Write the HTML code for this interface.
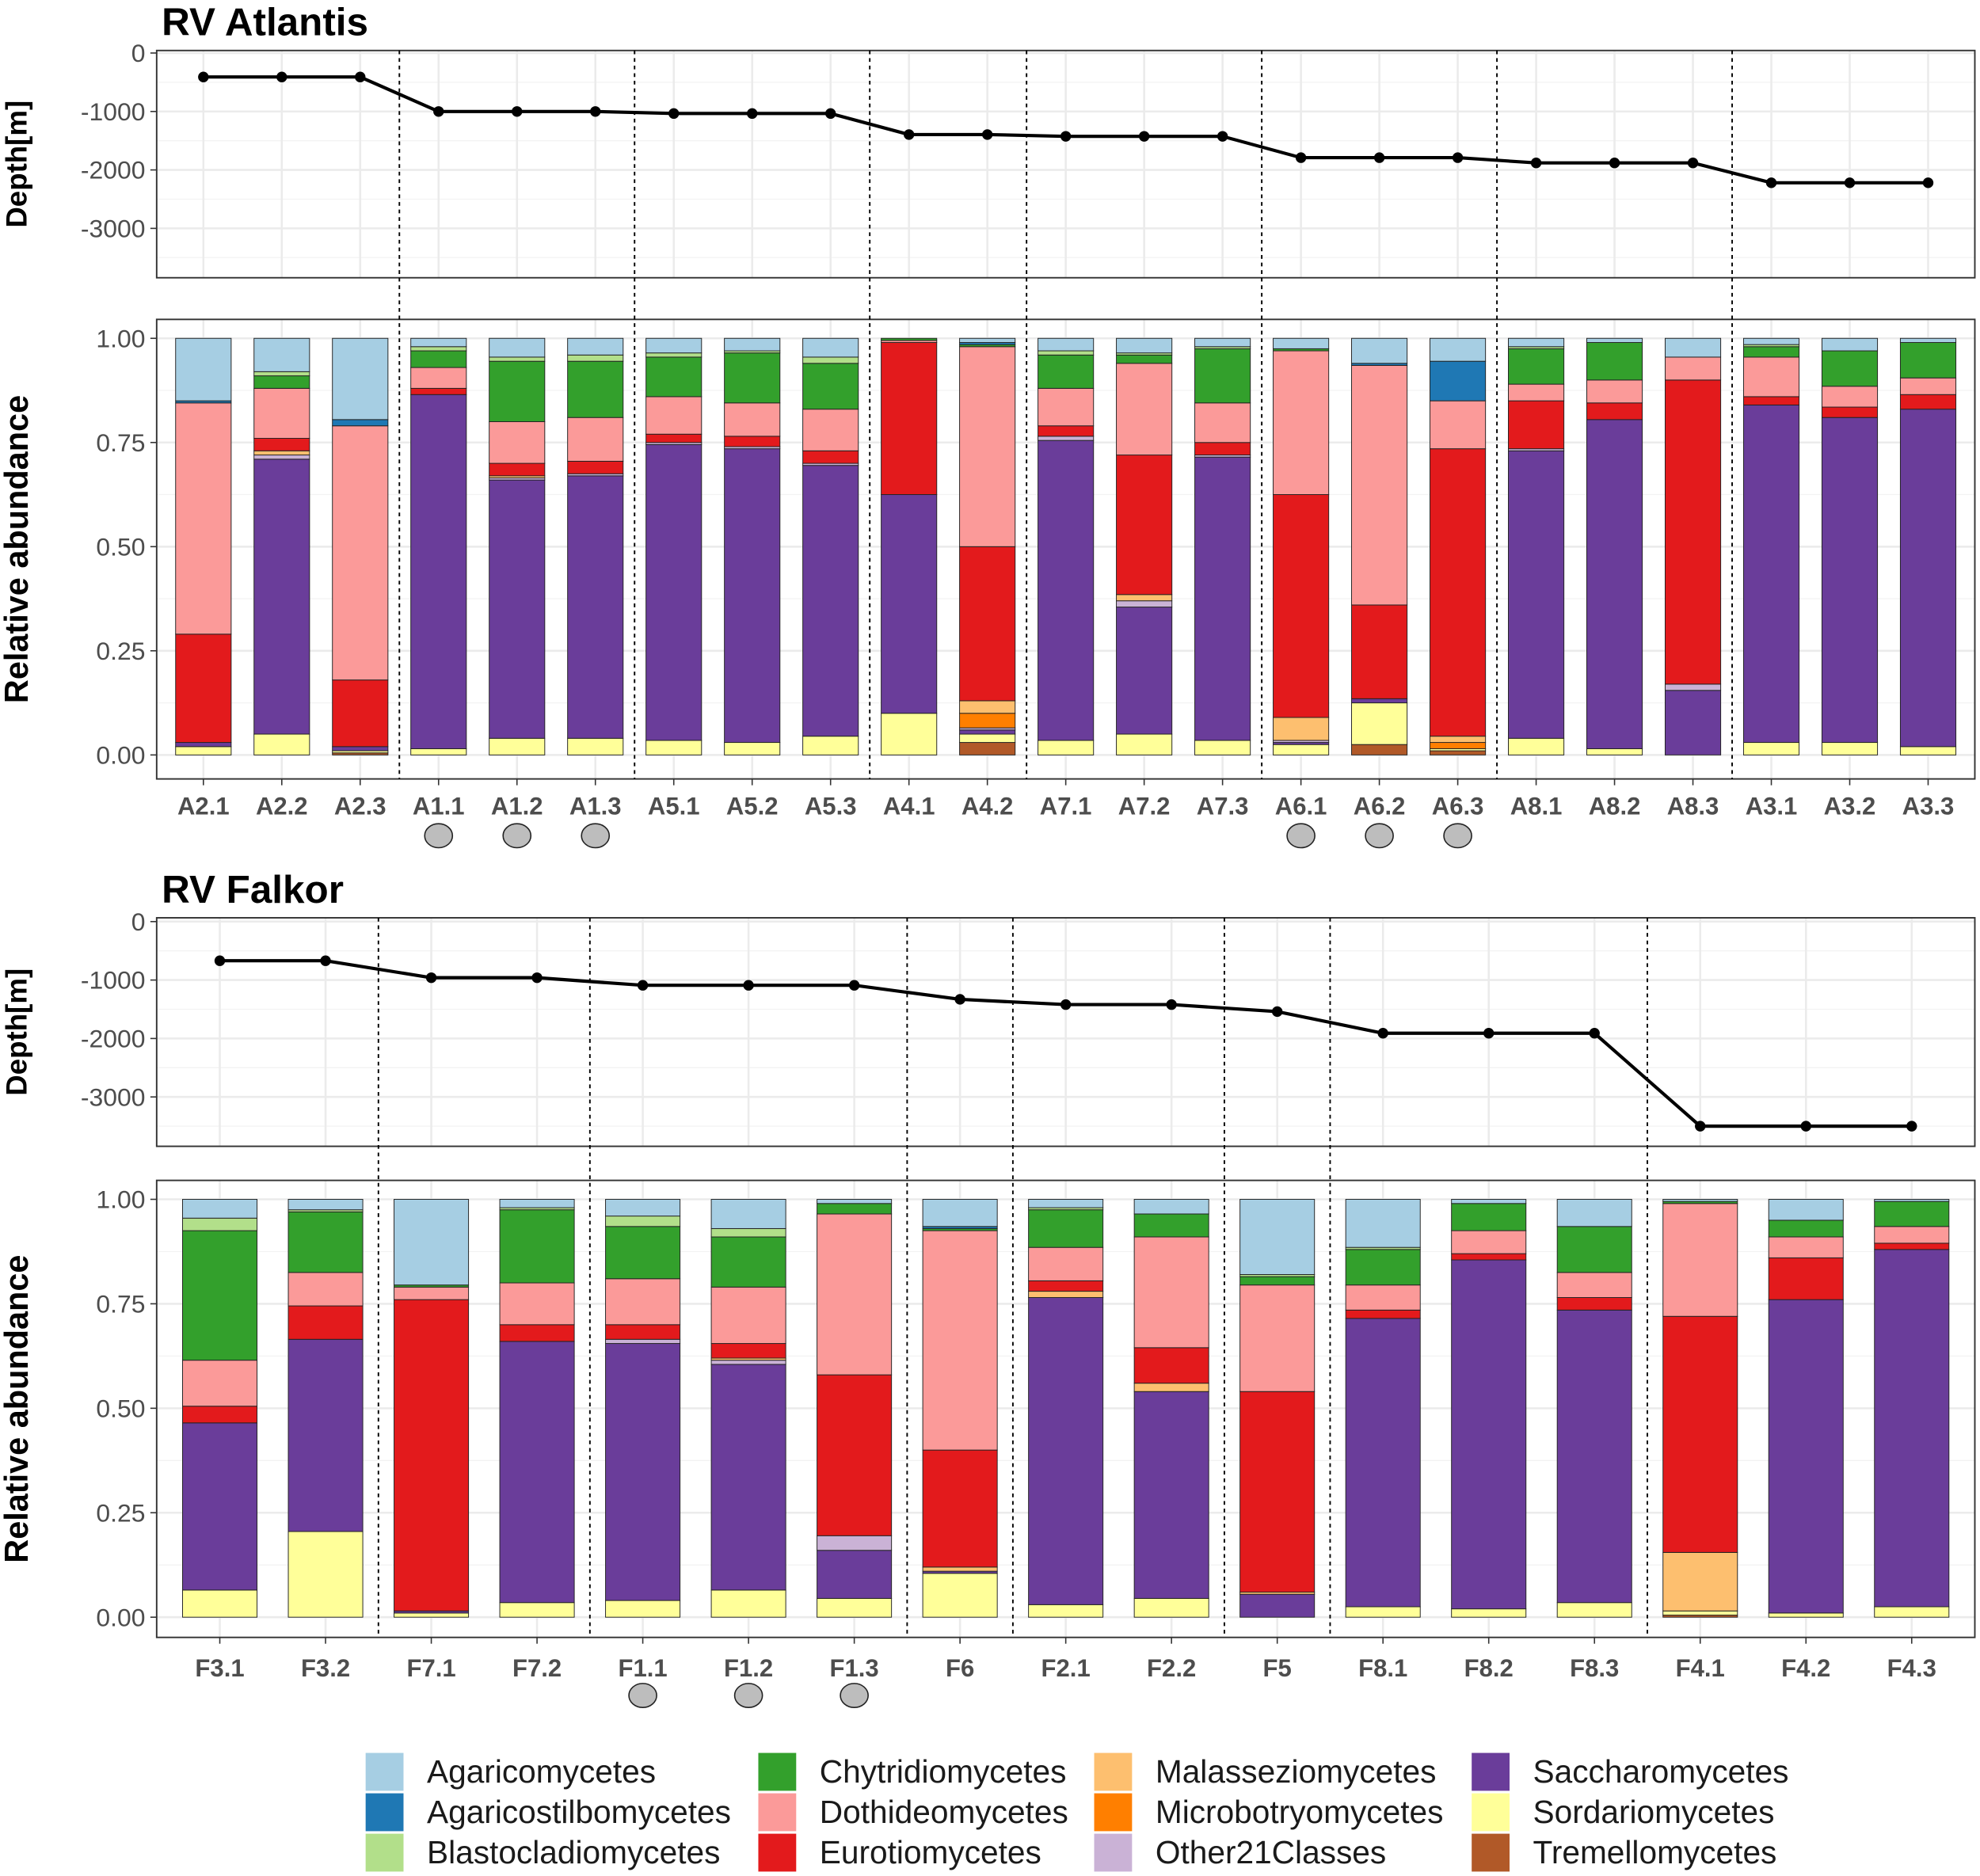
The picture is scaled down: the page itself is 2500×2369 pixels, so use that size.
<!DOCTYPE html>
<html><head><meta charset="utf-8"><style>
html,body{margin:0;padding:0;background:#fff;}
svg{display:block;font-family:"Liberation Sans",Arial,sans-serif;}
</style></head><body>
<svg id="chart" width="2500" height="2369" viewBox="0 0 1568 1486" xmlns="http://www.w3.org/2000/svg">
<text x="128" y="28" font-size="31" font-weight="bold">RV Atlantis</text>
<text x="128" y="715" font-size="31" font-weight="bold">RV Falkor</text>
<g id="layer"></g>
</svg>
<script>
const NS="http://www.w3.org/2000/svg";
const classNames=["Tremellomycetes","Sordariomycetes","Saccharomycetes","Other21Classes","Microbotryomycetes","Malasseziomycetes","Eurotiomycetes","Dothideomycetes","Chytridiomycetes","Blastocladiomycetes","Agaricostilbomycetes","Agaricomycetes"];
const classColors=["#B15928","#FFFF99","#6A3D9A","#CAB2D6","#FF7F00","#FDBF6F","#E31A1C","#FB9A99","#33A02C","#B2DF8A","#1F78B4","#A6CEE3"];

const atlSamples=["A2.1","A2.2","A2.3","A1.1","A1.2","A1.3","A5.1","A5.2","A5.3","A4.1","A4.2","A7.1","A7.2","A7.3","A6.1","A6.2","A6.3","A8.1","A8.2","A8.3","A3.1","A3.2","A3.3"];
const atlDepth=[-410,-410,-410,-1000,-1000,-1000,-1035,-1035,-1035,-1395,-1395,-1425,-1425,-1425,-1790,-1790,-1790,-1880,-1880,-1880,-2220,-2220,-2220];
const atlTrem=[0,0,.005,0,0,0,0,0,0,0,.03,0,0,0,0,.025,.01,0,0,0,0,0,0];
const atlSord=[.02,.05,.005,.015,.04,.04,.035,.03,.045,.10,.02,.035,.05,.035,.025,.10,.005,.04,.015,0,.03,.03,.02];
const atlSacch=[.01,.66,.01,.85,.62,.63,.71,.705,.65,.525,.01,.72,.305,.68,.005,.01,0,.69,.79,.155,.81,.78,.81];
const atlOther=[0,.01,0,0,.005,.005,.005,.005,.005,0,.005,.01,.015,.005,.005,0,0,.005,0,.015,0,0,0];
const atlMicro=[0,0,0,0,0,0,0,0,0,0,.035,0,0,0,0,0,.015,0,0,0,0,0,0];
const atlMalas=[0,.01,0,0,.005,0,0,0,0,0,.03,0,.015,0,.055,0,.015,0,0,0,0,0,0];
const atlEuro=[.26,.03,.16,.015,.03,.03,.02,.025,.03,.365,.37,.025,.335,.03,.535,.225,.69,.115,.04,.73,.02,.025,.035];
const atlDoth=[.555,.12,.61,.05,.10,.105,.09,.08,.10,.005,.48,.09,.22,.095,.345,.575,.115,.04,.055,.055,.095,.05,.04];
const atlChyt=[0,.03,0,.04,.145,.135,.095,.12,.11,.005,.005,.08,.02,.13,.005,0,0,.085,.09,0,.025,.085,.085];
const atlBlast=[0,.01,0,.01,.01,.015,.01,.005,.015,0,0,.01,.005,.005,0,0,0,.005,0,0,.005,0,0];
const atlAgst=[.005,0,.015,0,0,0,0,0,0,0,.005,0,0,0,0,.005,.095,0,0,0,0,0,0];
const atlAgar=[.15,.08,.195,.02,.045,.04,.035,.03,.045,0,.01,.03,.035,.02,.025,.06,.055,.02,.01,.045,.015,.03,.01];
const atlMarked=["A1.1","A1.2","A1.3","A6.1","A6.2","A6.3"];
const atlSeparators=[2.5,5.5,8.5,10.5,13.5,16.5,19.5];

const falSamples=["F3.1","F3.2","F7.1","F7.2","F1.1","F1.2","F1.3","F6","F2.1","F2.2","F5","F8.1","F8.2","F8.3","F4.1","F4.2","F4.3"];
const falDepth=[-670,-670,-960,-960,-1090,-1090,-1090,-1330,-1420,-1420,-1540,-1910,-1910,-1910,-3500,-3500,-3500];
const falTrem=[0,0,0,0,0,0,0,0,0,0,0,0,0,0,.005,0,0];
const falSord=[.065,.205,.01,.035,.04,.065,.045,.105,.03,.045,0,.025,.02,.035,.01,.01,.025];
const falSacch=[.40,.46,.005,.625,.615,.54,.115,.005,.735,.495,.055,.69,.835,.70,0,.75,.855];
const falOther=[0,0,0,0,.01,.01,.035,0,0,0,0,0,0,0,0,0,0];
const falMicro=[0,0,0,0,0,0,0,0,0,0,0,0,0,0,0,0,0];
const falMalas=[0,0,0,0,0,.005,0,.01,.015,.02,.005,0,0,0,.14,0,0];
const falEuro=[.04,.08,.745,.04,.035,.035,.385,.28,.025,.085,.48,.02,.015,.03,.565,.10,.015];
const falDoth=[.11,.08,.03,.10,.11,.135,.385,.525,.08,.265,.255,.06,.055,.06,.27,.05,.04];
const falChyt=[.31,.145,.005,.175,.125,.12,.025,.005,.09,.055,.02,.085,.065,.11,.005,.04,.06];
const falBlast=[.03,.005,0,.005,.025,.02,0,0,.005,0,.005,.005,0,0,0,0,0];
const falAgst=[0,0,0,0,0,0,0,.005,0,0,0,0,0,0,0,0,0];
const falAgar=[.045,.025,.205,.02,.04,.07,.01,.065,.02,.035,.18,.115,.01,.065,.005,.05,.005];
const falMarked=["F1.1","F1.2","F1.3"];
const falSeparators=[1.5,3.5,6.5,7.5,9.5,10.5,13.5];

const depthTicks=[0,-1000,-2000,-3000];
const abundTicks=[0,0.25,0.5,0.75,1];
const abundTickLabels=["0.00","0.25","0.50","0.75","1.00"];

const layer=document.getElementById('layer');
function mk(tag,attrs,parent){const e=document.createElementNS(NS,tag);for(const k in attrs)e.setAttribute(k,attrs[k]);(parent||layer).appendChild(e);return e;}

function drawSection(cfg){
  const {samples,depth,series,marked,seps,x0,x1,dTop,dBot,dZeroY,aTop,aBot,a0Y,a1Y,barW,labelY,markY,prefix}=cfg;
  const n=samples.length;
  const first=x0+ (cfg.padL), last=x1-(cfg.padL);
  const step=(last-first)/(n-1);
  const xScale=i=>first+i*step;
  const yD=v=>dZeroY-v/1000*46.3;
  const yA=v=>a0Y-(a0Y-a1Y)*v;
  const gD=mk('g',{});
  
  
  mk('rect',{x:x0,y:dTop,width:x1-x0,height:dBot-dTop,fill:'#fff'},gD);
  for(let v=500;v>=-3500;v-=1000){const y=yD(v);if(y>dTop&&y<dBot)mk('line',{x1:x0,x2:x1,y1:y,y2:y,stroke:'#f3f3f3','stroke-width':0.8},gD);}
  depthTicks.forEach(v=>{const y=yD(v);mk('line',{x1:x0,x2:x1,y1:y,y2:y,stroke:'#ebebeb','stroke-width':1.6},gD);
    mk('line',{x1:x0-5,x2:x0,y1:y,y2:y,stroke:'#333','stroke-width':1},gD);
    const t=mk('text',{x:x0-9,y:y+7,'font-size':20,'text-anchor':'end',fill:'#4d4d4d'},gD);t.textContent=v;
    
    });
  for(let i=0;i<n;i++)mk('line',{x1:xScale(i),x2:xScale(i),y1:dTop,y2:dBot,stroke:'#ebebeb','stroke-width':1.6},gD);
  const pts=depth.map((d,i)=>xScale(i)+','+yD(d)).join(' ');
  const pl=mk('polyline',{points:pts,fill:'none',stroke:'#000','stroke-width':2.6},gD);
  
  
  depth.forEach((d,i)=>{const c=mk('circle',{cx:xScale(i),cy:yD(d),r:4.2,fill:'#000'},gD);
    
    });
  mk('rect',{x:x0,y:dTop,width:x1-x0,height:dBot-dTop,fill:'none',stroke:'#333','stroke-width':1.2},gD);
  const dl=mk('text',{transform:`translate(21,${(dTop+dBot)/2}) rotate(-90)`,'font-size':23,'font-weight':'bold','text-anchor':'middle'},gD);dl.textContent='Depth[m]';
  
  
  const gA=mk('g',{});
  
  
  for(let v=0.125;v<1.1;v+=0.25){mk('line',{x1:x0,x2:x1,y1:yA(v),y2:yA(v),stroke:'#f3f3f3','stroke-width':0.8},gA);}
  abundTicks.forEach((v,k)=>{const y=yA(v);mk('line',{x1:x0,x2:x1,y1:y,y2:y,stroke:'#ebebeb','stroke-width':1.6},gA);
    mk('line',{x1:x0-5,x2:x0,y1:y,y2:y,stroke:'#333','stroke-width':1},gA);
    const t=mk('text',{x:x0-9,y:y+7,'font-size':20,'text-anchor':'end',fill:'#4d4d4d'},gA);t.textContent=abundTickLabels[k];
    
    });
  for(let i=0;i<n;i++){mk('line',{x1:xScale(i),x2:xScale(i),y1:aTop,y2:aBot,stroke:'#ebebeb','stroke-width':1.6},gA);}
  for(let i=0;i<n;i++){
    let cum=0;
    const gb=mk('g',{},gA);
    
    
    series.forEach((arr,c)=>{const v=arr[i];if(v<=0)return;
      const r=mk('rect',{x:xScale(i)-barW/2,y:yA(cum+v),width:barW,height:yA(cum)-yA(cum+v),fill:classColors[c],stroke:'#222','stroke-width':0.6},gb);
      
      
      cum+=v;});
    mk('line',{x1:xScale(i),x2:xScale(i),y1:aBot,y2:aBot+5,stroke:'#333','stroke-width':1},gA);
    const t=mk('text',{x:xScale(i),y:labelY,'font-size':19.5,'font-weight':'bold','text-anchor':'middle',fill:'#4d4d4d'},gA);t.textContent=samples[i];
    
    
    if(marked.includes(samples[i])){const e=mk('ellipse',{cx:xScale(i),cy:markY,rx:11,ry:9.5,fill:'#bdbdbd',stroke:'#222','stroke-width':1},gA);
      
      }
  }
  mk('rect',{x:x0,y:aTop,width:x1-x0,height:aBot-aTop,fill:'none',stroke:'#333','stroke-width':1.2},gA);
  const al=mk('text',{transform:`translate(22,${(aTop+aBot)/2}) rotate(-90)`,'font-size':26,'font-weight':'bold','text-anchor':'middle'},gA);al.textContent='Relative abundance';
  
  
  seps.forEach(s=>{const x=first+s*step;const l=mk('line',{x1:x,x2:x,y1:dTop,y2:aBot,stroke:'#000','stroke-width':1.2,'stroke-dasharray':'3,3'});
    
    });
}

drawSection({prefix:'atlantis',samples:atlSamples,depth:atlDepth,
  series:[atlTrem,atlSord,atlSacch,atlOther,atlMicro,atlMalas,atlEuro,atlDoth,atlChyt,atlBlast,atlAgst,atlAgar],
  marked:atlMarked,seps:atlSeparators,x0:124,x1:1564,padL:37,dTop:40,dBot:220,dZeroY:42,aTop:253,aBot:617,a0Y:598,a1Y:268,barW:44,labelY:645,markY:662});
drawSection({prefix:'falkor',samples:falSamples,depth:falDepth,
  series:[falTrem,falSord,falSacch,falOther,falMicro,falMalas,falEuro,falDoth,falChyt,falBlast,falAgst,falAgar],
  marked:falMarked,seps:falSeparators,x0:124,x1:1564,padL:50,dTop:727,dBot:908,dZeroY:730,aTop:935,aBot:1297,a0Y:1281,a1Y:950,barW:59,labelY:1328,markY:1343});

const legendOrder=[11,10,9,8,7,6,5,4,3,2,1,0];
const legX=[289,600,866,1165];
const legY=[1388,1420,1452];
const lg=mk('g',{});


legendOrder.forEach((c,k)=>{const col=Math.floor(k/3),row=k%3;
  const ge=mk('g',{},lg);
  
  
  mk('rect',{x:legX[col],y:legY[row],width:31,height:31,fill:classColors[c],stroke:'#fff','stroke-width':1},ge);
  const t=mk('text',{x:legX[col]+49,y:legY[row]+24,'font-size':25.5,fill:'#1a1a1a'},ge);t.textContent=classNames[c];});
</script>
</body></html>
